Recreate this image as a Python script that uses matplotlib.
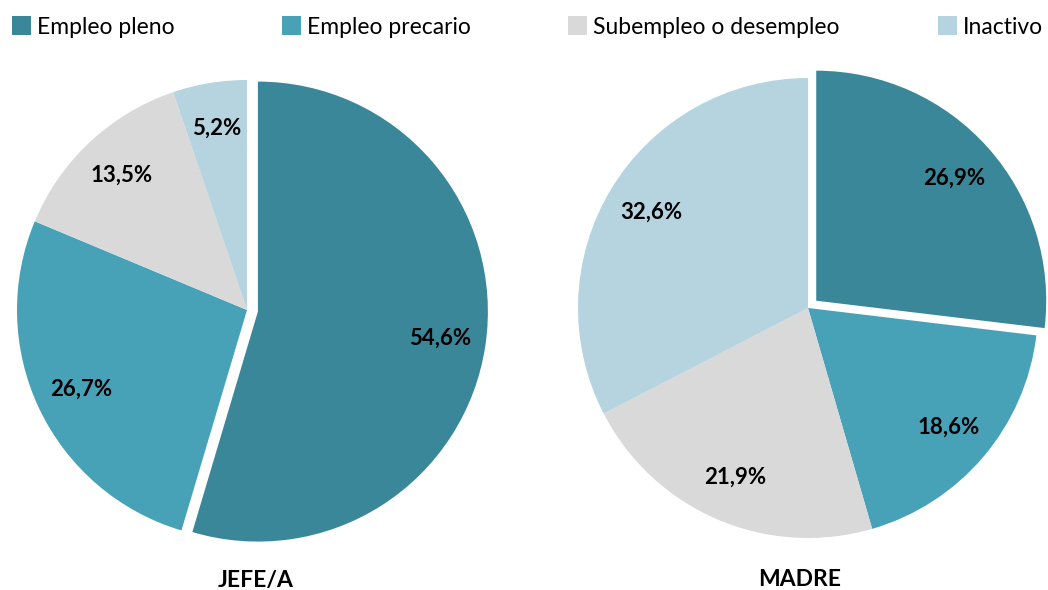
import matplotlib.pyplot as plt
from matplotlib.patches import Patch

plt.rcParams['font.family'] = ['Lato', 'DejaVu Sans']

categories = ["Empleo pleno", "Empleo precario", "Subempleo o desempleo", "Inactivo"]
jefe_vals = [54.6, 26.7, 13.5, 5.2]
madre_vals = [26.9, 18.6, 21.9, 32.6]
titles = ["JEFE/A", "MADRE"]
colors = ["#3A8799", "#47A2B8", "#D9D9D9", "#B6D4DF"]

W, H = 1048, 590
fig = plt.figure(figsize=(W / 100, H / 100), dpi=100)

# left pie clipped on its right side, like the original
ax1 = fig.add_axes([0, 0, 484 / W, 1])
ax2 = fig.add_axes([524 / W, 0, 524 / W, 1])

fmt = lambda p: f"{p:.1f}%".replace(".", ",")

for ax, vals, ctr, title, tx in [(ax1, jefe_vals, (247, 280), titles[0], 256),
                                  (ax2, madre_vals, (808, 282), titles[1], 800)]:
    ax.pie(vals, colors=colors, startangle=90, counterclock=False,
           center=ctr, radius=230, explode=[11, 0, 0, 0],
           autopct=fmt, pctdistance=0.8,
           textprops=dict(fontsize=16, fontweight="bold", color="black"),
           wedgeprops=dict(linewidth=0))
    ax.axis("off")
    ax.text(tx, H - 580, title, ha="center", va="center",
            fontsize=16.5, fontweight="bold")

ax1.set_xlim(0, 484)
ax1.set_ylim(0, H)
ax2.set_xlim(524, W)
ax2.set_ylim(0, H)

# one legend entry per slot, spaced as in the original
legend_x = [12, 282, 568, 938]
for c, lab, lx in zip(colors, categories, legend_x):
    fig.legend(handles=[Patch(facecolor=c, label=lab)], loc="center left",
               bbox_to_anchor=(lx / W, 1 - 27 / H), frameon=False, fontsize=16.5,
               handlelength=0.85, handleheight=0.85, handletextpad=0.25,
               borderaxespad=0, borderpad=0)

fig.savefig("out.png", dpi=100)
